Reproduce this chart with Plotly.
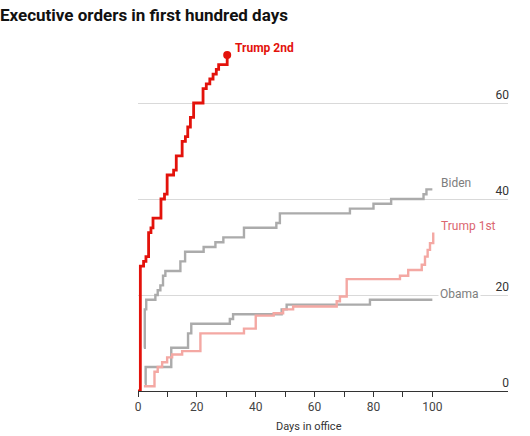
import plotly.graph_objects as go

# ---- data ----
trump2_days = [0, 0.8, 1.9, 2.7, 3.6, 4.4, 5.1, 7.8, 9.0, 9.9, 12.1, 13.0, 15.0, 16.1,
               16.9, 17.8, 18.9, 22.1, 23.2, 24.4, 25.5, 26.6, 27.4, 30.3]
trump2_orders = [0, 26, 27, 28, 33, 34, 36, 40, 41, 45, 46, 49, 52, 53,
                 55, 57, 60, 63, 64, 65, 66, 67, 68, 70]

biden_days = [2.0, 2.3, 2.8, 5.9, 6.7, 7.6, 8.5, 9.3, 14.4, 16.0, 22.3, 26.3, 29.0,
              36.0, 47.0, 48.2, 72.0, 80.0, 86.0, 97.0, 98.0, 100.0]
biden_orders = [9, 17, 19, 20, 21, 22, 24, 25, 27, 29, 30, 31, 32,
                34, 35, 37, 38, 39, 40, 41, 42, 42]

trump1_days = [2.0, 5.6, 6.7, 8.2, 9.9, 11.6, 15.0, 21.2, 36.0, 40.0, 46.1, 49.3, 52.7,
               67.5, 68.6, 70.9, 89.0, 91.8, 96.4, 97.5, 98.4, 99.2, 100.3]
trump1_orders = [1, 4, 5, 6, 7, 7.6, 8.3, 12, 13, 15.7, 16.2, 17, 17.6,
                 18.7, 19.7, 23.3, 24, 25.2, 26.3, 28, 29.4, 30.8, 33]

obama_days = [2.3, 2.6, 11.3, 17.0, 18.1, 31.2, 32.3, 48.8, 50.5, 78.8, 100.0]
obama_orders = [1.5, 5, 9, 12, 14, 15, 16, 17, 18, 19, 19]

x_tickvals = [0, 10, 20, 30, 40, 50, 60, 70, 80, 90, 100]
x_ticktext = ["0", "", "20", "", "40", "", "60", "", "80", "", "100"]
y_tickvals = [0, 20, 40, 60]

RED = "#E3120B"
PINK = "#F4A8A3"
PINK_TXT = "#DB6670"
GREY = "#ABABAB"
GREY_TXT = "#7D7D7D"
FONT = "Roboto, Lato, 'Noto Sans', sans-serif"

fig = go.Figure()
fig.add_trace(go.Scatter(x=obama_days, y=obama_orders, mode="lines",
                         line=dict(color=GREY, width=2.4, shape="hv"), hoverinfo="skip"))
fig.add_trace(go.Scatter(x=trump1_days, y=trump1_orders, mode="lines",
                         line=dict(color=PINK, width=2.4, shape="hv"), hoverinfo="skip"))
fig.add_trace(go.Scatter(x=biden_days, y=biden_orders, mode="lines",
                         line=dict(color=GREY, width=2.4, shape="hv"), hoverinfo="skip"))
fig.add_trace(go.Scatter(x=trump2_days, y=trump2_orders, mode="lines",
                         line=dict(color=RED, width=2.8, shape="hv"), hoverinfo="skip"))
fig.add_trace(go.Scatter(x=[trump2_days[-1]], y=[trump2_orders[-1]], mode="markers",
                         marker=dict(color=RED, size=8), hoverinfo="skip"))

annotations = [
    dict(x=trump2_days[-1], y=trump2_orders[-1], text="<b>Trump 2nd</b>",
         font=dict(color=RED, size=12, family=FONT), xshift=6, yshift=7),
    dict(x=biden_days[-1], y=biden_orders[-1], text="Biden",
         font=dict(color=GREY_TXT, size=12, family=FONT), xshift=7, yshift=6),
    dict(x=trump1_days[-1], y=trump1_orders[-1], text="Trump 1st",
         font=dict(color=PINK_TXT, size=12, family=FONT), xshift=6, yshift=7),
    dict(x=obama_days[-1], y=obama_orders[-1], text="Obama", bgcolor="white",
         font=dict(color=GREY_TXT, size=12, family=FONT), xshift=6, yshift=6),
    dict(x=58, y=0, yref="y", text="Days in office", yshift=-35,
         font=dict(color="#333333", size=11, family=FONT), xanchor="center"),
]
for a in annotations[:4]:
    a.update(xref="x", yref="y", showarrow=False, xanchor="left", yanchor="middle")
annotations[4].update(xref="x", showarrow=False, yanchor="middle")

fig.update_layout(
    width=530, height=436,
    margin=dict(l=138, r=22, t=31, b=44.5),
    paper_bgcolor="white", plot_bgcolor="white",
    showlegend=False,
    title=dict(text="<b>Executive orders in first hundred days</b>",
               x=0, xref="container", xanchor="left",
               y=0.965, yanchor="middle",
               font=dict(size=17, color="#111111", family=FONT)),
    annotations=annotations,
    xaxis=dict(range=[0, 125.7], tickmode="array", tickvals=x_tickvals, ticktext=x_ticktext,
               ticks="outside", ticklen=5, tickcolor="#333333", tickwidth=1,
               showline=True, linecolor="#333333", linewidth=1,
               showgrid=False, zeroline=False,
               tickfont=dict(size=12, color="#444444", family=FONT)),
    yaxis=dict(range=[0, 75], tickmode="array", tickvals=y_tickvals,
               side="right", ticklabelposition="inside top", ticklabelstandoff=-4,
               showgrid=True, gridcolor="#D9D9D9", gridwidth=1,
               zeroline=False, showline=False, ticks="",
               tickfont=dict(size=12, color="#333333", family=FONT)),
)

fig.write_html("out.html", config={"displayModeBar": False},
               post_script="document.body.style.margin='0';")
